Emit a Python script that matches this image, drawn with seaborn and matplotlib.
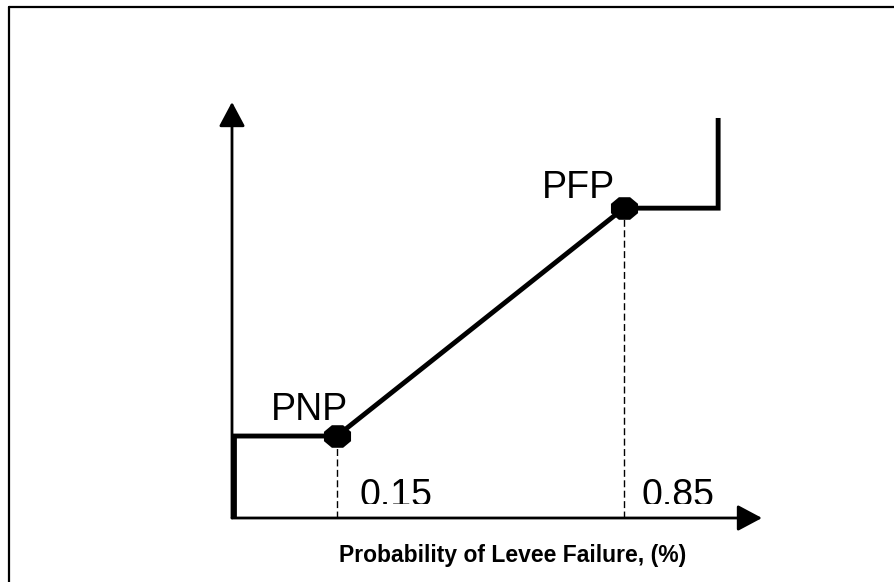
import numpy as np
import pandas as pd
import matplotlib.pyplot as plt
import matplotlib.transforms as mtransforms
from matplotlib.lines import Line2D
from matplotlib.path import Path
import seaborn as sns

# Performance curve: probability of levee failure vs. (unlabelled) response
curve_x = [-0.1, -0.1, 0.15, 0.85, 1.08, 1.08]
curve_y = [0.0, 0.2, 0.2, 0.756, 0.756, 0.976]

# the two break points
point_names = ['PNP', 'PFP']
point_x = [0.15, 0.85]
point_y = [0.2, 0.756]
point_ticks = ['0.15', '0.85']

df = pd.DataFrame({'x': curve_x, 'y': curve_y})
pts = pd.DataFrame({'x': point_x, 'y': point_y, 'name': point_names})

sns.set_style('white')
plt.rcParams['font.family'] = ['Liberation Sans', 'DejaVu Sans']
plt.rcParams['text.color'] = 'black'

fig = plt.figure(figsize=(8.95, 5.82), dpi=100)
ax = fig.add_axes([232 / 895, 64 / 582, 530 / 895, 416 / 582])

sns.lineplot(data=df, x='x', y='y', sort=False, estimator=None, color='black',
             linewidth=3.5, ax=ax, solid_joinstyle='miter', solid_capstyle='butt')

# dashed drop lines from the points to the axis
ax.vlines(pts['x'], 0, pts['y'], colors='black', linestyles=(0, (5, 2.5)), linewidth=1)

# stretched octagon marker
ang = np.deg2rad(22.5 + 45 * np.arange(8))
verts = np.column_stack([1.2 * np.cos(ang), np.sin(ang)])
octo = Path(np.vstack([verts, verts[:1]]), closed=True)
sns.scatterplot(data=pts, x='x', y='y', marker=octo, s=19.5 ** 2, color='black',
                edgecolor='black', linewidth=0, zorder=5, ax=ax, legend=False)

ax.set_xlim(-0.106, 1.187)
ax.set_ylim(0, 1.015)
ax.set_xticks([])
ax.set_yticks([])
ax.set(xlabel=None, ylabel=None)
sns.despine(ax=ax, left=True, bottom=True)

# axis arrows
arrow = dict(arrowstyle='-|>,head_length=0.75,head_width=0.4', mutation_scale=20,
             color='black', lw=2, shrinkA=0, shrinkB=0)
ax.annotate('', xy=(0, 1), xytext=(0, 0), xycoords='axes fraction', arrowprops=arrow)
ax.annotate('', xy=(1, 0), xytext=(0, 0), xycoords='axes fraction', arrowprops=arrow)

# point names
ax.annotate(point_names[0], xy=(point_x[0], point_y[0]), xytext=(-20, 11.5),
            textcoords='offset points', ha='center', va='baseline', fontsize=27)
ax.annotate(point_names[1], xy=(point_x[1], point_y[1]), xytext=(-33, 7.2),
            textcoords='offset points', ha='center', va='baseline', fontsize=27)

# tick values, cut off at the bottom as in the original
clip = mtransforms.TransformedBbox(mtransforms.Bbox([[0, 14 / 416], [1, 1]]), ax.transAxes)
for xv, lab, dx in zip(point_x, point_ticks, [16.6, 13]):
    t = ax.annotate(lab, xy=(xv, 0), xytext=(dx, 9.0), textcoords='offset points',
                    ha='left', va='baseline', fontsize=27)
    t.set_clip_on(True)
    t.set_clip_box(clip)

fig.text(513 / 895, 1 - 562 / 582, 'Probability of Levee Failure, (%)',
         ha='center', va='baseline', fontsize=16.5, fontweight='bold')

# frame lines (top and left edges of the picture border)
fig.add_artist(Line2D([9 / 895, 1.0], [1 - 7 / 582, 1 - 7 / 582], color='black',
                      linewidth=1.6, transform=fig.transFigure))
fig.add_artist(Line2D([9 / 895, 9 / 895], [0.0, 1 - 7 / 582], color='black',
                      linewidth=1.6, transform=fig.transFigure))

fig.savefig('out.png', dpi=100)
